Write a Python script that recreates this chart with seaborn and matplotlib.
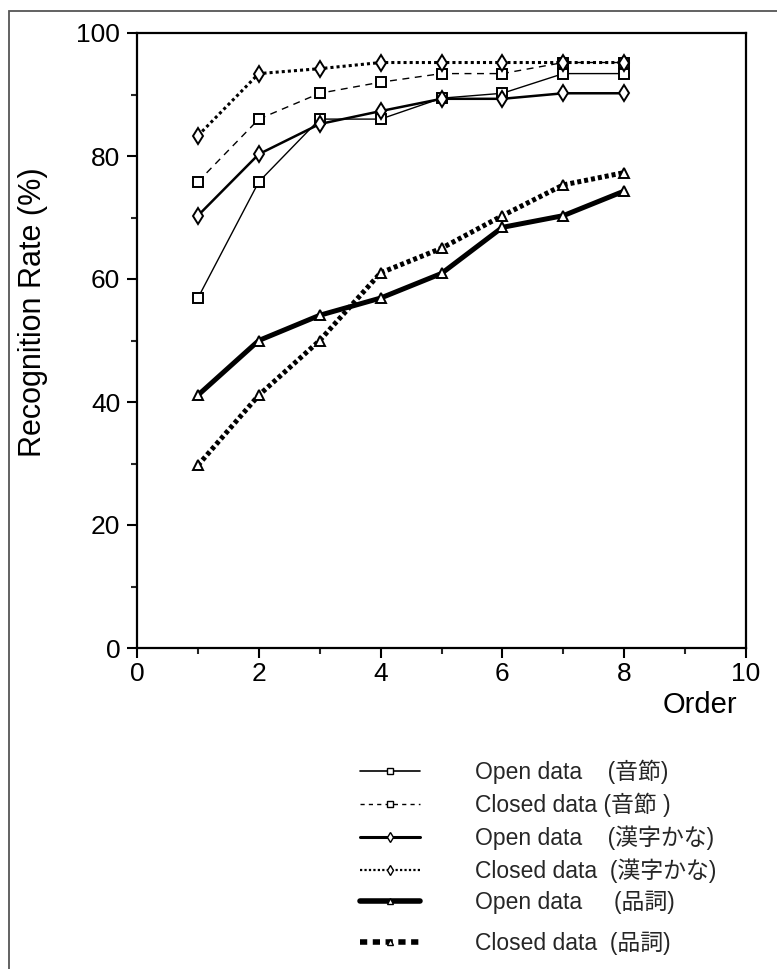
import matplotlib
matplotlib.use("Agg")
import matplotlib.pyplot as plt
import seaborn as sns
import pandas as pd
from matplotlib.lines import Line2D
from matplotlib.patches import Rectangle
from matplotlib.ticker import MultipleLocator

sns.set_theme(style="white")
plt.rcParams['font.family'] = ['Liberation Sans', 'Noto Sans CJK JP', 'DejaVu Sans']

order = [1, 2, 3, 4, 5, 6, 7, 8]
open_onsetsu = [56.9, 75.8, 86.0, 86.0, 89.4, 90.2, 93.4, 93.4]
closed_onsetsu = [75.8, 86.0, 90.2, 92.0, 93.4, 93.4, 95.2, 95.2]
open_kanji = [70.3, 80.3, 85.2, 87.3, 89.3, 89.3, 90.2, 90.2]
closed_kanji = [83.3, 93.4, 94.2, 95.2, 95.2, 95.2, 95.2, 95.2]
open_hinshi = [41.1, 50.0, 54.1, 56.9, 60.9, 68.4, 70.3, 74.3]
closed_hinshi = [29.7, 41.1, 50.0, 61.0, 65.0, 70.3, 75.3, 77.3]

labels = ["Open data    (音節)", "Closed data (音節 )", "Open data    (漢字かな)",
          "Closed data  (漢字かな)", "Open data     (品詞)", "Closed data  (品詞)"]
series = [open_onsetsu, closed_onsetsu, open_kanji, closed_kanji, open_hinshi, closed_hinshi]

styles = [
    dict(lw=1.0, ls='-', marker='s', ms=7.0),
    dict(lw=1.0, ls=(0, (5, 4)), marker='s', ms=7.0),
    dict(lw=1.8, ls='-', marker='d', ms=8.5),
    dict(lw=2.2, ls=(0, (1, 1)), marker='d', ms=8.5),
    dict(lw=3.6, ls='-', marker='^', ms=7.5),
    dict(lw=3.6, ls=(0, (0.8, 0.6)), marker='^', ms=7.5),
]
leg_styles = [
    dict(lw=1.2, ls='-', marker='s', ms=5),
    dict(lw=1.0, ls=(0, (3, 3)), marker='s', ms=5),
    dict(lw=2.2, ls='-', marker='d', ms=5),
    dict(lw=1.6, ls=(0, (1, 1)), marker='d', ms=5),
    dict(lw=4.0, ls='-', marker='^', ms=5),
    dict(lw=4.0, ls=(0, (1.3, 1.0)), marker='^', ms=5),
]

W, H = 777, 969
fig = plt.figure(figsize=(W / 100, H / 100), dpi=100)
fig.patch.set_facecolor('white')
fig.patches.append(Rectangle((9 / W, -0.1), 1.2, (H - 11) / H + 0.1, transform=fig.transFigure,
                             fill=False, edgecolor='#555555', lw=1.3, zorder=0))

L, R, T, B = 137, 746, 33, 648
ax = fig.add_axes([L / W, (H - B) / H, (R - L) / W, (B - T) / H])
ax.set_facecolor('white')

for vals, st in zip(series, styles):
    df = pd.DataFrame({'Order': order, 'Rate': vals})
    sns.lineplot(data=df, x='Order', y='Rate', ax=ax, color='black',
                 linewidth=st['lw'], linestyle=st['ls'], marker=st['marker'],
                 markersize=st['ms'], markerfacecolor='white', markeredgecolor='black',
                 markeredgewidth=1.4, legend=False, dash_capstyle='butt')

ax.set_xlim(0, 10)
ax.set_ylim(0, 100)
ax.xaxis.set_major_locator(MultipleLocator(2))
ax.xaxis.set_minor_locator(MultipleLocator(1))
ax.yaxis.set_major_locator(MultipleLocator(20))
ax.yaxis.set_minor_locator(MultipleLocator(10))
ax.tick_params(axis='both', which='major', direction='out', length=7, width=1.5,
               labelsize=19, pad=3, color='black', labelcolor='black',
               bottom=True, left=True, top=False, right=False)
ax.tick_params(axis='y', which='major', pad=5)
ax.tick_params(axis='both', which='minor', direction='out', length=4, width=1.5,
               bottom=True, left=True, top=False, right=False)
for s in ax.spines.values():
    s.set_color('black')
    s.set_linewidth(1.6)
ax.set_xlabel('')
ax.set_ylabel('Recognition Rate (%)', fontsize=22, color='black')
ax.yaxis.set_label_coords((48 - L) / (R - L), (B - 312) / (B - T))
ax.text(1.0 - 9 / (R - L), -0.092, 'Order', transform=ax.transAxes, ha='right', va='center',
        fontsize=21, color='black')

handles = [Line2D([], [], color='black', linewidth=st['lw'], linestyle=st['ls'],
                  marker=st['marker'], markersize=st['ms'], markerfacecolor='white',
                  markeredgecolor='black', markeredgewidth=1.0, dash_capstyle='butt')
           for st in leg_styles]
leg_kw = dict(loc='upper left', frameon=False, fontsize=16.5, handlelength=2.6,
              handletextpad=2.4, labelspacing=0.36, borderaxespad=0, borderpad=0)
fig.legend(handles[:5], labels[:5], bbox_to_anchor=(360 / W, 1 - 760 / H), **leg_kw)
fig.legend(handles[5:], labels[5:], bbox_to_anchor=(360 / W, 1 - 932 / H), **leg_kw)

fig.savefig('out.png', dpi=100, facecolor='white')
